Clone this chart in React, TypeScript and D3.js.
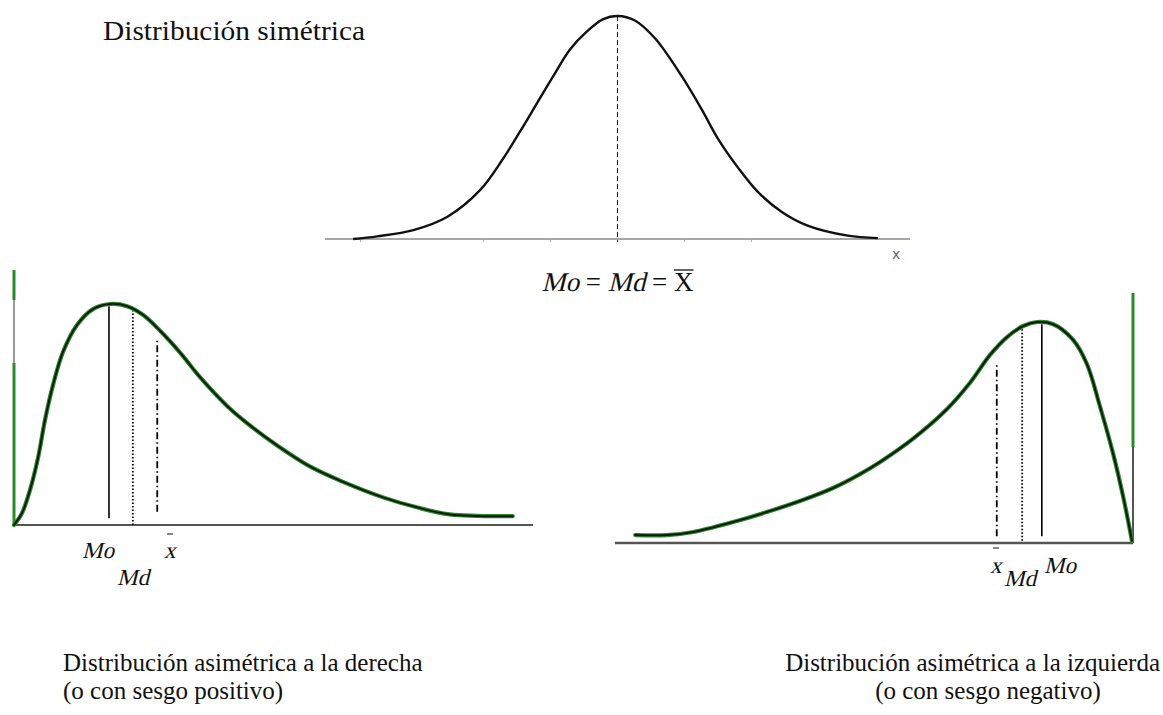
import React from "react";
import * as d3 from "d3";

// ---------- data ----------
// Symmetric distribution (x in axis units, y as share of the peak height)
const normalX = [-3.95, -3.59, -3.05, -2.54, -2.05, -1.71, -1.46, -1.2, -0.96, -0.71, -0.46, -0.22, 0, 0.26, 0.56, 0.96, 1.26, 1.5, 1.8, 2.1, 2.46, 2.84, 3.44, 3.89];
const normalY = [0.0, 0.012, 0.04, 0.1, 0.22, 0.36, 0.48, 0.61, 0.73, 0.85, 0.93, 0.985, 1, 0.98, 0.9, 0.73, 0.58, 0.45, 0.32, 0.21, 0.12, 0.06, 0.015, 0.004];
const normalTicks = [-3.84, -2, -1, 1, 2];
const normalCenter = 0;

// Positively skewed distribution
const rightSkewX = [0, 0.154, 0.308, 0.462, 0.597, 0.751, 0.944, 1.214, 1.522, 1.85, 2.18, 2.49, 2.81, 3.2, 3.58, 4.1, 4.55, 5.07, 5.7, 6.34, 7.11, 7.76, 8.4, 9.61];
const rightSkewY = [0, 0.054, 0.158, 0.303, 0.475, 0.633, 0.783, 0.905, 0.977, 1.0, 0.99, 0.95, 0.88, 0.78, 0.67, 0.54, 0.45, 0.36, 0.265, 0.195, 0.125, 0.08, 0.048, 0.04];
// position, bottom and top of the Mo / Md / mean markers
const rightSkewMarks = [
  { name: "Mo", x: 1.83, y0: 0.03, y1: 0.99, style: "solid" },
  { name: "Md", x: 2.29, y0: 0.0, y1: 0.97, style: "dotted" },
  { name: "mean", x: 2.76, y0: 0.06, y1: 0.84, style: "dashdot" },
];

// Negatively skewed distribution
const leftSkewX = [0.39, 1.0, 1.51, 2.28, 2.93, 3.57, 4.21, 4.73, 5.12, 5.75, 6.41, 6.85, 7.24, 7.57, 7.88, 8.15, 8.46, 8.84, 9.11, 9.36, 9.61, 9.81, 9.98];
const leftSkewY = [0.036, 0.036, 0.05, 0.095, 0.14, 0.19, 0.249, 0.312, 0.367, 0.471, 0.606, 0.724, 0.851, 0.932, 0.982, 1.0, 0.99, 0.92, 0.81, 0.62, 0.41, 0.21, 0.01];
const leftSkewMarks = [
  { name: "Mo", x: 8.24, y0: 0.03, y1: 0.99, style: "solid" },
  { name: "Md", x: 7.86, y0: 0.01, y1: 0.97, style: "dotted" },
  { name: "mean", x: 7.37, y0: 0.03, y1: 0.81, style: "dashdot" },
];

const W = 1163;
const H = 715;
const SERIF = "'Liberation Serif', 'Times New Roman', serif";
const GREEN = "#2a8a2a";
const INK = "#0b1a0b";

const dashFor = (s: string) => (s === "dotted" ? "1.5,2" : s === "dashdot" ? "7,3,1.5,3" : undefined);

function zip(xs: number[], ys: number[]) {
  return xs.map((x, i) => [x, ys[i]] as [number, number]);
}

// slanted serif text for the statistical symbols
function Ital({ x, y, size, children, anchor }: { x: number; y: number; size: number; children: React.ReactNode; anchor?: string }) {
  return (
    <text transform={`translate(${x},${y}) skewX(-14)`} fontSize={size} fill="#111" textAnchor={anchor || "start"}>
      {children}
    </text>
  );
}

export default function App() {
  // ----- top: symmetric -----
  const nx = d3.scaleLinear().domain([-4.37, 4.37]).range([325, 910]);
  const ny = d3.scaleLinear().domain([0, 1]).range([239, 16]);
  const nLine = d3.line<[number, number]>().x((d) => nx(d[0])).y((d) => ny(d[1])).curve(d3.curveCatmullRom.alpha(0.5));

  // ----- bottom left: right-skewed -----
  const rx = d3.scaleLinear().domain([0, 10]).range([14, 533]);
  const ry = d3.scaleLinear().domain([0, 1]).range([525, 304]);
  const rLine = d3.line<[number, number]>().x((d) => rx(d[0])).y((d) => ry(d[1])).curve(d3.curveCatmullRom.alpha(0.5));

  // ----- bottom right: left-skewed -----
  const lx = d3.scaleLinear().domain([0, 10]).range([615, 1133]);
  const ly = d3.scaleLinear().domain([0, 1]).range([543, 322]);
  const lLine = d3.line<[number, number]>().x((d) => lx(d[0])).y((d) => ly(d[1])).curve(d3.curveCatmullRom.alpha(0.5));

  const rPath = rLine(zip(rightSkewX, rightSkewY)) || "";
  const lPath = lLine(zip(leftSkewX, leftSkewY)) || "";

  // formula "Mo = Md = X" laid out with Times metrics at 27px
  const fs = 27;
  const wMo = 1.389 * fs;
  const wEq = 1.064 * fs;
  const wX = 0.722 * fs;
  const fStart = nx(normalCenter) - (2 * wMo + 2 * wEq + wX) / 2;
  const fBase = 291;

  return (
    <svg width={W} height={H} style={{ position: "absolute", left: 0, top: 0, background: "#fff" }} fontFamily={SERIF}>
      <rect width={W} height={H} fill="#fff" />

      {/* ===== symmetric distribution ===== */}
      <text x={103} y={40} fontSize={28} fill="#111" textLength={262} lengthAdjust="spacingAndGlyphs">Distribución simétrica</text>
      <line x1={nx(-4.37)} x2={nx(4.37)} y1={ny(0)} y2={ny(0)} stroke="#8a8a8a" strokeWidth={1.6} />
      {normalTicks.map((t) => (
        <line key={t} x1={nx(t)} x2={nx(t)} y1={ny(0)} y2={ny(0) + 3} stroke="#aaa" strokeWidth={1} />
      ))}
      <line x1={nx(normalCenter)} x2={nx(normalCenter)} y1={ny(1)} y2={ny(0) + 3} stroke="#222" strokeWidth={1.1} strokeDasharray="5,3" />
      <path d={nLine(zip(normalX, normalY)) || ""} fill="none" stroke="#111" strokeWidth={2.4} />
      <text x={892} y={259} fontSize={14} fontFamily="'DejaVu Sans', sans-serif" fill="#666">x</text>

      <Ital x={fStart} y={fBase} size={fs}>Mo</Ital>
      <text x={fStart + wMo + wEq / 2} y={fBase} fontSize={fs} fill="#111" textAnchor="middle">=</text>
      <Ital x={fStart + wMo + wEq} y={fBase} size={fs}>Md</Ital>
      <text x={fStart + 2 * wMo + 1.5 * wEq} y={fBase} fontSize={fs} fill="#111" textAnchor="middle">=</text>
      <text x={fStart + 2 * wMo + 2 * wEq} y={fBase} fontSize={fs} fill="#111">X</text>
      <line x1={fStart + 2 * wMo + 2 * wEq} x2={fStart + 2 * wMo + 2 * wEq + wX} y1={fBase - 21} y2={fBase - 21} stroke="#111" strokeWidth={1.3} />

      {/* ===== right-skewed distribution ===== */}
      <line x1={rx(0)} x2={rx(0)} y1={270} y2={ry(0)} stroke="#777" strokeWidth={1.5} />
      <line x1={rx(0)} x2={rx(0)} y1={270} y2={300} stroke={GREEN} strokeWidth={3} />
      <line x1={rx(0)} x2={rx(0)} y1={363} y2={ry(0)} stroke={GREEN} strokeWidth={3} />
      <line x1={rx(0)} x2={533} y1={ry(0)} y2={ry(0)} stroke="#555" strokeWidth={2.2} />
      {rightSkewMarks.map((m) => (
        <line key={m.name} x1={rx(m.x)} x2={rx(m.x)} y1={ry(m.y0)} y2={ry(m.y1)} stroke="#000" strokeWidth={m.style === "solid" ? 1.6 : 1.8} strokeDasharray={dashFor(m.style)} />
      ))}
      <path d={rPath} fill="none" stroke={GREEN} strokeWidth={4.2} strokeLinecap="round" />
      <path d={rPath} fill="none" stroke={INK} strokeWidth={2} strokeLinecap="round" />
      <Ital x={82} y={558} size={23}>Mo</Ital>
      <Ital x={117} y={585} size={23}>Md</Ital>
      <Ital x={164} y={558} size={23}>x</Ital>
      <line x1={167} x2={173} y1={534} y2={534} stroke="#111" strokeWidth={1} />

      {/* ===== left-skewed distribution ===== */}
      <line x1={lx(10)} x2={lx(10)} y1={293} y2={ly(0)} stroke="#555" strokeWidth={2} />
      <line x1={lx(10)} x2={lx(10)} y1={293} y2={447} stroke={GREEN} strokeWidth={3} />
      <line x1={lx(0)} x2={lx(10)} y1={ly(0)} y2={ly(0)} stroke="#555" strokeWidth={2.4} />
      {leftSkewMarks.map((m) => (
        <line key={m.name} x1={lx(m.x)} x2={lx(m.x)} y1={ly(m.y0)} y2={ly(m.y1)} stroke="#000" strokeWidth={m.style === "solid" ? 1.6 : 1.8} strokeDasharray={dashFor(m.style)} />
      ))}
      <path d={lPath} fill="none" stroke={GREEN} strokeWidth={4.2} strokeLinecap="round" />
      <path d={lPath} fill="none" stroke={INK} strokeWidth={2} strokeLinecap="round" />
      <Ital x={990} y={573} size={23}>x</Ital>
      <line x1={993} x2={999} y1={548} y2={548} stroke="#111" strokeWidth={1} />
      <Ital x={1004} y={586} size={23}>Md</Ital>
      <Ital x={1044} y={573} size={23}>Mo</Ital>

      {/* ===== captions ===== */}
      <text x={63} y={671} fontSize={25} fill="#111">Distribución asimétrica a la derecha</text>
      <text x={63} y={699} fontSize={25} fill="#111">(o con sesgo positivo)</text>
      <text x={1160} y={671} fontSize={25} fill="#111" textAnchor="end">Distribución asimétrica a la izquierda</text>
      <text x={988} y={699} fontSize={25} fill="#111" textAnchor="middle">(o con sesgo negativo)</text>
    </svg>
  );
}
